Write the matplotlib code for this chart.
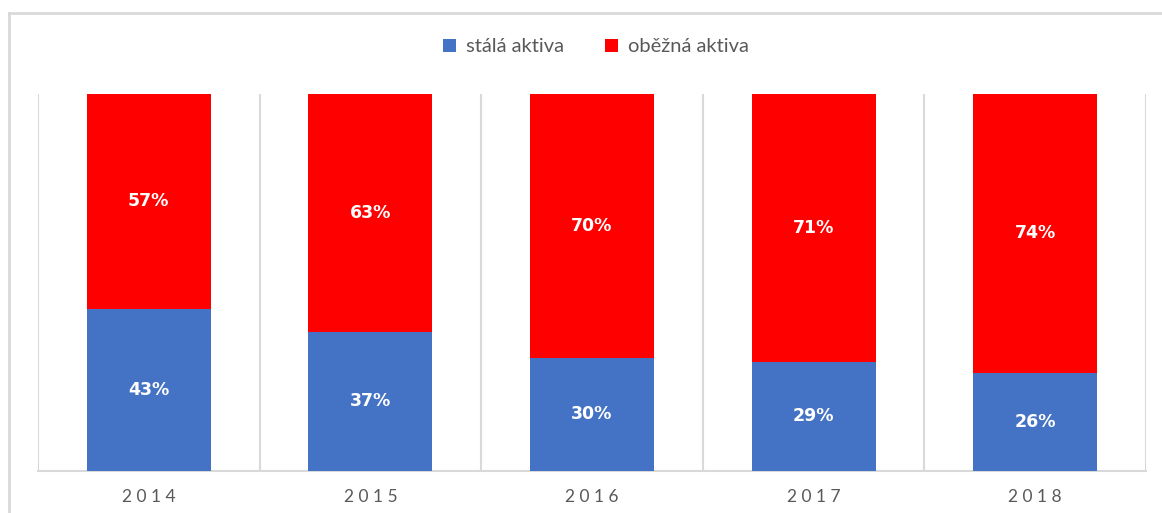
import matplotlib
matplotlib.use("Agg")
import matplotlib.pyplot as plt
from matplotlib.lines import Line2D
from matplotlib.patches import Patch

years = ["2014", "2015", "2016", "2017", "2018"]
stala = [43, 37, 30, 29, 26]
obezna = [57, 63, 70, 71, 74]
series_names = ["stálá aktiva", "oběžná aktiva"]
colors = ["#4472C4", "#FF0000"]

plt.rcParams['font.family'] = ['Lato', 'DejaVu Sans']

fig = plt.figure(figsize=(11.62, 5.13), dpi=100)
W, H = 1162, 513
ax = fig.add_axes([38 / W, 1 - 471 / H, (1146 - 38) / W, (471 - 94) / H])

x = list(range(len(years)))
ax.bar(x, stala, width=0.56, color=colors[0], label=series_names[0], zorder=3)
ax.bar(x, obezna, width=0.56, bottom=stala, color=colors[1], label=series_names[1], zorder=3)

lab_font = dict(family=['DejaVu Sans'], fontsize=12.5, fontweight="bold", color="white")
for xi, s, o in zip(x, stala, obezna):
    ax.text(xi, s / 2, f"{s}%", ha="center", va="center", zorder=4, **lab_font)
    ax.text(xi, s + o / 2, f"{o}%", ha="center", va="center", zorder=4, **lab_font)

ax.set_xlim(-0.5, len(years) - 0.5)
ax.set_ylim(0, 100)
ax.set_yticks([])
ax.set_xticks(x)
ax.set_xticklabels([" ".join(y) for y in years], color="#595959", fontsize=12.5)
ax.tick_params(axis="x", length=0, pad=13)
for xv in [i - 0.5 for i in range(len(years) + 1)]:
    ax.axvline(xv, color="#D9D9D9", lw=1.5, zorder=1)
for sp in ["top", "right", "left"]:
    ax.spines[sp].set_visible(False)
ax.spines["bottom"].set_color("#D9D9D9")
ax.spines["bottom"].set_linewidth(1.5)

handles = [Patch(facecolor=c) for c in colors]
fig.legend(handles, series_names, loc="center", bbox_to_anchor=(596 / W, 1 - 47 / H),
           ncol=2, frameon=False, fontsize=14.5, labelcolor="#595959",
           handlelength=0.65, handleheight=0.65, handletextpad=0.5, columnspacing=2.0)

# chart border
fig.add_artist(Line2D([9 / W, 9 / W], [0, 1 - 13 / H], transform=fig.transFigure,
                      color="#D9D9D9", lw=2))
fig.add_artist(Line2D([9 / W, 1], [1 - 13 / H, 1 - 13 / H], transform=fig.transFigure,
                      color="#D9D9D9", lw=2))

fig.savefig("out.png", dpi=100)
